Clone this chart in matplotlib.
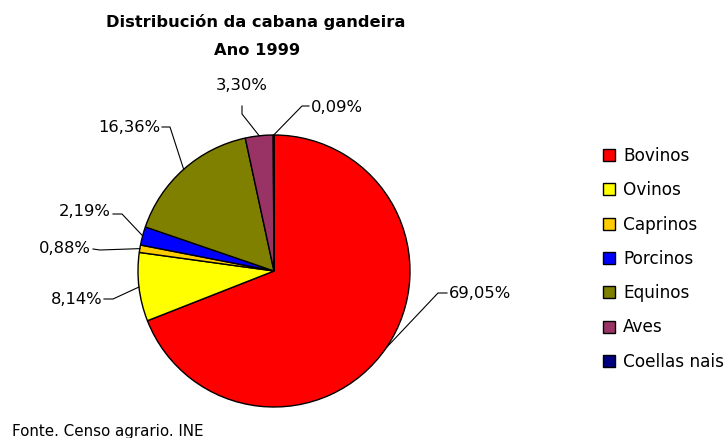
import numpy as np
import matplotlib
matplotlib.use("Agg")
import matplotlib.pyplot as plt
from matplotlib.patches import Rectangle

W, H = 726, 439

categories = ["Bovinos", "Ovinos", "Caprinos", "Porcinos", "Equinos", "Aves", "Coellas nais"]
shares = [69.05, 8.14, 0.88, 2.19, 16.36, 3.30, 0.09]
colors = ["#FF0000", "#FFFF00", "#FFCC00", "#0000FF", "#808000", "#993366", "#000080"]

# label layout in pixel coords (y from the top): leader elbow, leader end, text anchor
elbows = [(438, 294), (113, 300), (100, 251), (122, 215), (170, 128), (242, 115), (302, 107)]
ends = [(447, 294), (104, 300), (93, 250), (113, 215), (162, 128), (242, 107), (309, 107)]
text_at = [(449, 294), (102, 299), (91, 249), (111, 212), (160, 127), (242, 86), (311, 108)]
text_ha = ["left", "right", "right", "right", "right", "center", "left"]

cx, cy, r = 274, 272, 136

plt.rcParams["font.family"] = ["DejaVu Sans"]

fig = plt.figure(figsize=(W / 100, H / 100), dpi=100)
ax = fig.add_axes([0, 0, 1, 1])


def px(x, y):
    return x, H - y


ax.pie(shares, colors=colors, startangle=90, counterclock=False,
       center=px(cx, cy), radius=r,
       wedgeprops=dict(edgecolor="black", linewidth=1.0))
ax.set_xlim(0, W)
ax.set_ylim(0, H)
ax.set_aspect("equal", adjustable="box")
ax.axis("off")

# percentage labels with leader lines from the middle of each wedge
cum = np.cumsum([0] + shares[:-1])
for i, v in enumerate(shares):
    mid = 90 - (cum[i] + v / 2) / 100 * 360
    ex = cx + r * np.cos(np.radians(mid))
    ey = cy - r * np.sin(np.radians(mid))
    pts = [(ex, ey), elbows[i], ends[i]]
    xs = [p[0] for p in pts]
    ys = [H - p[1] for p in pts]
    ax.plot(xs, ys, color="black", linewidth=0.8)
    label = f"{v:.2f}".replace(".", ",") + "%"
    ax.text(*px(*text_at[i]), label, ha=text_ha[i], va="center",
            fontsize=11.8, color="black")

# titles
ax.text(*px(256, 22), "Distribución da cabana gandeira", ha="center", va="center",
        fontsize=11.7, fontweight="bold")
ax.text(*px(257, 50), "Ano 1999", ha="center", va="center",
        fontsize=11.7, fontweight="bold")

# legend
for i, name in enumerate(categories):
    y = 156 + i * 34.3
    ax.add_patch(Rectangle(px(603, y + 6), 12, 12, facecolor=colors[i],
                           edgecolor="black", linewidth=1.0))
    ax.text(*px(623, y), name, ha="left", va="center", fontsize=12.2)

ax.text(*px(12, 432), "Fonte. Censo agrario. INE", ha="left", va="center", fontsize=10.9)

fig.savefig("out.png", dpi=100)
